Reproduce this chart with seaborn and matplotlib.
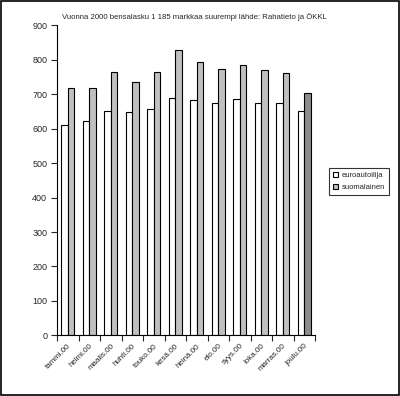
import numpy as np
import matplotlib
matplotlib.use("Agg")
import matplotlib.pyplot as plt
import seaborn as sns
import pandas as pd
from matplotlib.patches import Rectangle

# data
months = ["tammi.00", "helmi.00", "maalis.00", "huhti.00", "touko.00", "kesä.00",
          "heinä.00", "elo.00", "syys.00", "loka.00", "marras.00", "joulu.00"]
euro = [610, 622, 651, 647, 656, 688, 682, 673, 685, 673, 673, 651]
suomi = [717, 717, 763, 734, 763, 827, 792, 772, 784, 769, 760, 702]
series = ["euroautoilija", "suomalainen"]

df = pd.DataFrame({
    "kk": months * 2,
    "mk": euro + suomi,
    "sarja": [series[0]] * len(months) + [series[1]] * len(months),
})

sns.set_style("white")
plt.rcParams["font.family"] = ["Liberation Sans", "DejaVu Sans"]

fig = plt.figure(figsize=(4.0, 3.96), dpi=100)
ax = fig.add_axes([0.1425, 0.1528, 0.645, 0.784])

sns.barplot(data=df, x="kk", y="mk", hue="sarja", order=months, hue_order=series,
            palette=["white", "#C0C0C0"], edgecolor="black", linewidth=0.8,
            width=0.6, saturation=1, ax=ax)

# last month highlighted darker
ax.containers[1][-1].set_facecolor("#8C8C8C")

ax.set_ylim(0, 900)
ax.set_yticks(np.arange(0, 901, 100))
ax.set_xlim(-0.5, len(months) - 0.5)
ax.set_xlabel("")
ax.set_ylabel("")

for s in ["top", "right"]:
    ax.spines[s].set_visible(False)
for s in ["left", "bottom"]:
    ax.spines[s].set_linewidth(0.8)
    ax.spines[s].set_color("black")

ax.tick_params(axis="y", direction="out", length=4, width=0.8, labelsize=6.5, pad=3, left=True)
ax.tick_params(axis="x", which="major", length=0, labelsize=5.8, pad=5)
ax.set_xticks(np.arange(-0.5, len(months), 1.0), minor=True)
ax.tick_params(axis="x", which="minor", direction="out", length=4, width=0.8, bottom=True)
plt.setp(ax.get_xticklabels(), rotation=45, ha="right", rotation_mode="anchor")

fig.text(0.155, 0.947, "Vuonna 2000 bensalasku 1 185 markkaa suurempi lähde: Rahatieto ja ÖKKL",
         fontsize=5.6, ha="left", va="bottom")

leg = ax.legend(loc="upper left", bbox_to_anchor=(0.823, 0.575), bbox_transform=fig.transFigure,
                fontsize=5.5, frameon=True, fancybox=False, handlelength=0.7, handleheight=0.7,
                handletextpad=0.4, borderpad=0.5, labelspacing=0.6, borderaxespad=0)
leg.get_frame().set_edgecolor("black")
leg.get_frame().set_linewidth(0.8)

fig.patches.append(Rectangle((0.002, 0.002), 0.996, 0.996, transform=fig.transFigure,
                             fill=False, edgecolor="black", linewidth=1.2))

fig.savefig("out.png", dpi=100)
